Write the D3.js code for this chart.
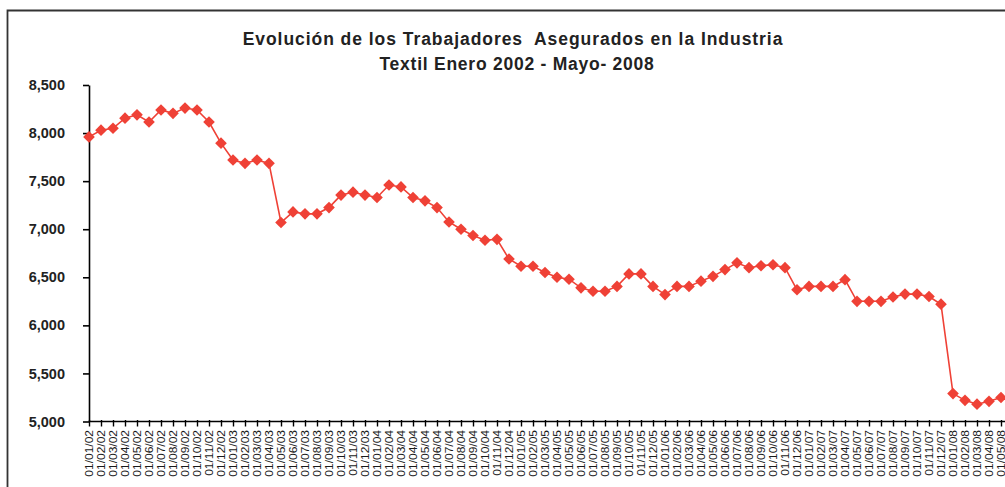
<!DOCTYPE html>
<html>
<head>
<meta charset="utf-8">
<script src="https://cdn.jsdelivr.net/npm/d3@7"></script>
<style>
  html, body { margin: 0; padding: 0; background: #fff; }
  svg { display: block; }
</style>
</head>
<body>
<svg id="chart" width="1005" height="487"></svg>
<script>
const titleLines = ["Evolución de los Trabajadores  Asegurados en la Industria", "Textil Enero 2002 - Mayo- 2008"];

const months = ["01","02","03","04","05","06","07","08","09","10","11","12"];
const years = ["02","03","04","05","06","07","08"];
const categories = [];
years.forEach(y => months.forEach(m => { categories.push("01/" + m + "/" + y); }));
categories.splice(77);

const values = [
  7960, 8030, 8050, 8155, 8190, 8115, 8240, 8205, 8260, 8240, 8115, 7895,
  7720, 7685, 7720, 7685, 7070, 7180, 7160, 7160, 7225, 7355, 7385, 7355,
  7330, 7460, 7440, 7330, 7295, 7225, 7075, 7000, 6935, 6885, 6895, 6690,
  6615, 6615, 6550, 6500, 6480, 6390, 6355, 6355, 6405, 6535, 6535, 6405,
  6320, 6405, 6405, 6460, 6510, 6580, 6650, 6600, 6620, 6630, 6600, 6370,
  6405, 6405, 6405, 6475, 6250, 6250, 6250, 6295, 6325, 6325, 6300, 6220,
  5290, 5220, 5180, 5210, 5250
];

const yTicks = [5000, 5500, 6000, 6500, 7000, 7500, 8000, 8500];

const svg = d3.select("#chart");

// outer frame (chart area border, cut off at right/bottom)
svg.append("path")
  .attr("d", "M7.5,540 L7.5,10.5 L1100,10.5")
  .attr("fill", "none")
  .attr("stroke", "#333")
  .attr("stroke-width", 1.8);

// title
svg.append("g").selectAll("text")
  .data(titleLines)
  .join("text")
  .attr("x", (d, i) => i === 0 ? 513 : 517)
  .attr("y", (d, i) => 45 + i * 24.5)
  .attr("text-anchor", "middle")
  .attr("font-family", "Liberation Sans, Arial, sans-serif")
  .attr("font-weight", "bold")
  .attr("font-size", "17.5px")
  .attr("letter-spacing", (d, i) => i === 0 ? "0.95px" : "0.75px")
  .attr("fill", "#222")
  .style("white-space", "pre")
  .text(d => d);

const x = d3.scalePoint().domain(categories).range([89, 1001]);
const y = d3.scaleLinear().domain([5000, 8500]).range([421.5, 85]);

// y axis
const yAxis = svg.append("g")
  .attr("transform", "translate(89,0)")
  .call(d3.axisLeft(y).tickValues(yTicks).tickSize(6).tickSizeOuter(0).tickPadding(18)
        .tickFormat(d3.format(",")));
yAxis.select(".domain").attr("stroke", "#000").attr("stroke-width", 1.6);
yAxis.selectAll(".tick line").attr("stroke", "#000").attr("stroke-width", 1.6);
yAxis.selectAll(".tick text")
  .attr("font-family", "Liberation Sans, Arial, sans-serif")
  .attr("font-weight", "bold")
  .attr("font-size", "14.5px")
  .attr("fill", "#222");

// x axis
const xAxis = svg.append("g")
  .attr("transform", "translate(0,421.5)")
  .call(d3.axisBottom(x).tickSize(5).tickSizeOuter(0).tickFormat(""));
xAxis.select(".domain").attr("stroke", "#000").attr("stroke-width", 1.6).attr("d", "M89,0H1010");
xAxis.selectAll(".tick line").attr("stroke", "#000").attr("stroke-width", 1.4).attr("y1", -1.5);

// rotated x labels
svg.append("g").selectAll("text")
  .data(categories)
  .join("text")
  .attr("transform", d => `translate(${x(d) + 3.8},430) rotate(-90) scale(1,0.86)`)
  .attr("text-anchor", "end")
  .attr("font-family", "Liberation Sans, Arial, sans-serif")
  .attr("font-size", "12px")
  .attr("fill", "#1a1a1a")
  .text(d => d);

// line
const data = categories.map((c, i) => ({ c, v: values[i] }));
svg.append("path")
  .datum(data)
  .attr("fill", "none")
  .attr("stroke", "#EF4136")
  .attr("stroke-width", 1.6)
  .attr("d", d3.line().x(d => x(d.c)).y(d => y(d.v)));

// diamond markers
const sym = d3.symbol().type(d3.symbolSquare).size(68);
svg.append("g").selectAll("path")
  .data(data)
  .join("path")
  .attr("transform", d => `translate(${x(d.c)},${y(d.v)}) rotate(45)`)
  .attr("d", sym)
  .attr("fill", "#EF4136");
</script>
</body>
</html>
